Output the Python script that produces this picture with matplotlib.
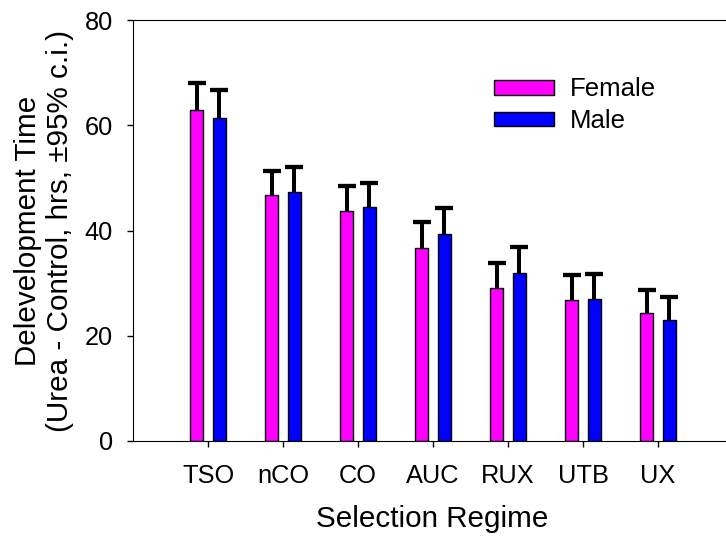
import matplotlib.pyplot as plt
import numpy as np

plt.rcParams['font.family'] = ['Liberation Sans', 'DejaVu Sans']

# development time difference (urea - control), hours
regimes = ["TSO", "nCO", "CO", "AUC", "RUX", "UTB", "UX"]
female = [62.9, 46.7, 43.8, 36.6, 29.0, 26.8, 24.3]
male = [61.3, 47.4, 44.4, 39.3, 32.0, 27.0, 23.0]
# upper half of the 95% confidence interval
female_ci = [5.1, 4.7, 4.7, 5.0, 4.9, 4.7, 4.4]
male_ci = [5.4, 4.6, 4.7, 5.0, 4.9, 4.7, 4.4]

fig = plt.figure(figsize=(7.26, 5.37), dpi=100)
# axis runs on past the right edge of the figure
ax = fig.add_axes([133/726, 96/537, 675/726, 421/537])

x = np.arange(len(regimes))
w = 0.17
off = 0.153

def draw_group(pos, vals, ci, color, label):
    vals = np.array(vals)
    ci = np.array(ci)
    ax.bar(pos, vals, width=w, color=color, edgecolor='black', linewidth=1, label=label, zorder=2)
    # one-sided error bars, upward only
    ax.vlines(pos, vals, vals + ci, colors='black', linewidth=2.9, zorder=1)
    ax.plot(pos, vals + ci, linestyle='', marker='_', markersize=12.7, markeredgewidth=3.1, color='black', zorder=3)

draw_group(x - off, female, female_ci, '#ff00ff', 'Female')
draw_group(x + off, male, male_ci, '#0000ff', 'Male')

ax.set_xlim(-1, 8)
ax.set_ylim(0, 80)
ax.set_yticks([0, 20, 40, 60, 80])
ax.set_xticks(x)
ax.set_xticklabels(regimes)
ax.tick_params(axis='both', direction='out', length=4.2, width=1, labelsize=18.3)
ax.tick_params(axis='x', pad=12.5)
ax.tick_params(axis='y', pad=10.3)
ax.spines['right'].set_visible(False)

ax.set_xlabel("Selection Regime", fontsize=21.3)
ax.xaxis.set_label_coords(0.443, -0.152)
ax.set_ylabel("Delevelopment Time\n(Urea - Control, hrs, \u00b195% c.i.)", fontsize=21.3, linespacing=1.2)
ax.yaxis.set_label_coords(-0.0874, 0.5)

ax.legend(loc='upper left', bbox_to_anchor=(494.3/726, 1 - 77.5/537), bbox_transform=fig.transFigure,
          frameon=False, fontsize=18.5, borderpad=0, borderaxespad=0,
          handlelength=2.33, handleheight=0.48, labelspacing=0.3, handletextpad=0.61)

fig.savefig("out.png", dpi=100)
